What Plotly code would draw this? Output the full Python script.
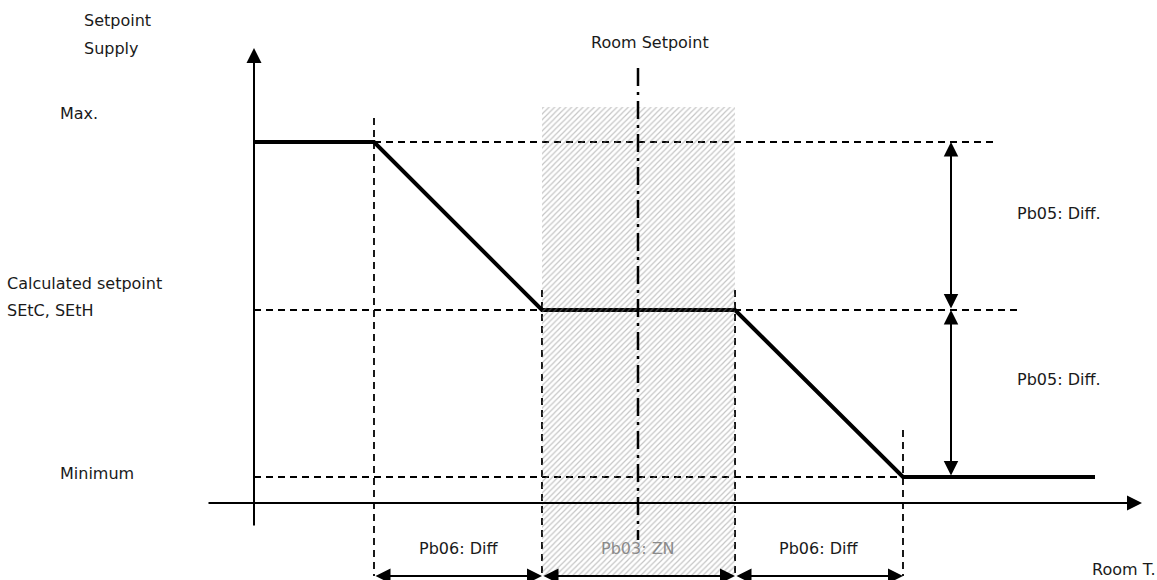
import plotly.graph_objects as go

# ---- schematic values (x: room temperature axis, y: supply setpoint axis) ----
curve_x = [254, 374, 542, 735, 903, 1095]
curve_y = [438, 438, 270, 270, 103, 103]
level_max = 438
level_calc = 270
level_min = 103
room_setpoint = 638
zn_band = [542, 735]
diff_left = [374, 542]
diff_right = [735, 903]
axis_origin_x = 254
axis_origin_y = 77
diff_arrow_x = 951

left_labels = ["Setpoint", "Supply", "Max.", "Calculated setpoint", "SEtC, SEtH", "Minimum"]
left_label_x = [82, 82, 58, 5, 5, 58]
left_label_y = [560, 532, 467, 297, 270, 107]
right_labels = ["Pb05: Diff.", "Pb05: Diff."]
right_label_y = [367, 201]
bottom_labels = ["Pb06: Diff", "Pb03: ZN", "Pb06: Diff"]
bottom_label_x = [458, 638, 818]
bottom_label_y = 32
arrow_y_bottom = 4

FONT = "DejaVu Sans"
DASH = "7px,5px"
fig = go.Figure()

def line(xs, ys, width=2, dash="solid", color="black"):
    fig.add_trace(go.Scatter(x=xs, y=ys, mode="lines", hoverinfo="skip",
                             line=dict(color=color, width=width, dash=dash)))

# dashed horizontal guides
line([curve_x[1], 998], [level_max, level_max], 1.8, DASH)
line([axis_origin_x, 1020], [level_calc, level_calc], 1.8, DASH)
line([axis_origin_x, curve_x[4]], [level_min, level_min], 1.8, DASH)
# dashed vertical guides
line([curve_x[1], curve_x[1]], [462, arrow_y_bottom], 1.8, DASH)
line([curve_x[2], curve_x[2]], [290, arrow_y_bottom], 1.8, DASH)
line([curve_x[3], curve_x[3]], [290, arrow_y_bottom], 1.8, DASH)
line([curve_x[4], curve_x[4]], [150, arrow_y_bottom], 1.8, DASH)

# setpoint curve
line(curve_x, curve_y, 4)

# hatched neutral zone
fig.add_trace(go.Scatter(
    x=[zn_band[0], zn_band[1], zn_band[1], zn_band[0], zn_band[0]],
    y=[arrow_y_bottom, arrow_y_bottom, 473, 473, arrow_y_bottom],
    mode="lines", fill="toself", hoverinfo="skip",
    line=dict(width=0, color="rgba(0,0,0,0)"),
    fillcolor="rgba(0,0,0,0)",
    fillpattern=dict(shape="/", fgcolor="#8c8c8c", bgcolor="rgba(255,255,255,0)",
                     size=4, solidity=0.3)))

# room setpoint dash-dot line
line([room_setpoint, room_setpoint], [512, 40], 2.5, "18px,6px,3px,6px")

annotations = []

def arrow(x0, y0, x1, y1, both=False, size=1.5, width=2):
    a = dict(x=x1, y=y1, ax=x0, ay=y0, xref="x", yref="y", axref="x", ayref="y",
             text="", showarrow=True, arrowhead=2, arrowsize=size, arrowwidth=width,
             arrowcolor="black", standoff=0, startstandoff=0)
    if both:
        a.update(arrowside="end+start", startarrowhead=2, startarrowsize=size)
    annotations.append(a)

# axes
arrow(axis_origin_x, 53, axis_origin_x, 532)
arrow(207, axis_origin_y, 1142, axis_origin_y)
# Pb05 vertical arrows
arrow(diff_arrow_x, level_calc, diff_arrow_x, level_max, both=True, size=1.45)
arrow(diff_arrow_x, level_min, diff_arrow_x, level_calc, both=True, size=1.45)
# bottom arrows
arrow(diff_left[0], arrow_y_bottom, diff_left[1], arrow_y_bottom, both=True, size=1.5)
arrow(zn_band[0], arrow_y_bottom, zn_band[1], arrow_y_bottom, both=True, size=1.5)
arrow(diff_right[0], arrow_y_bottom, diff_right[1], arrow_y_bottom, both=True, size=1.5)

def text(t, x, y, anchor="left", color="#1a1a1a"):
    annotations.append(dict(x=x, y=y, xref="x", yref="y", text=t, showarrow=False,
                            xanchor=anchor, yanchor="middle",
                            font=dict(family=FONT, size=16, color=color)))

for t, x, y in zip(left_labels, left_label_x, left_label_y):
    text(t, x, y)
for t, y in zip(right_labels, right_label_y):
    text(t, 1015, y)
for i, (t, x) in enumerate(zip(bottom_labels, bottom_label_x)):
    text(t, x, bottom_label_y, "center", "#8a8a8a" if i == 1 else "#1a1a1a")
text("Room Setpoint", 650, 538, "center")
text("Room T.", 1090, 11)

fig.update_layout(
    width=1157, height=580, margin=dict(l=0, r=0, t=0, b=0),
    paper_bgcolor="white", plot_bgcolor="white", showlegend=False,
    xaxis=dict(range=[0, 1157], visible=False, fixedrange=True),
    yaxis=dict(range=[0, 580], visible=False, fixedrange=True),
    annotations=annotations,
)
fig.write_html("out.html", config={"displayModeBar": False},
               post_script="document.body.style.margin='0';document.body.style.overflow='hidden';")
